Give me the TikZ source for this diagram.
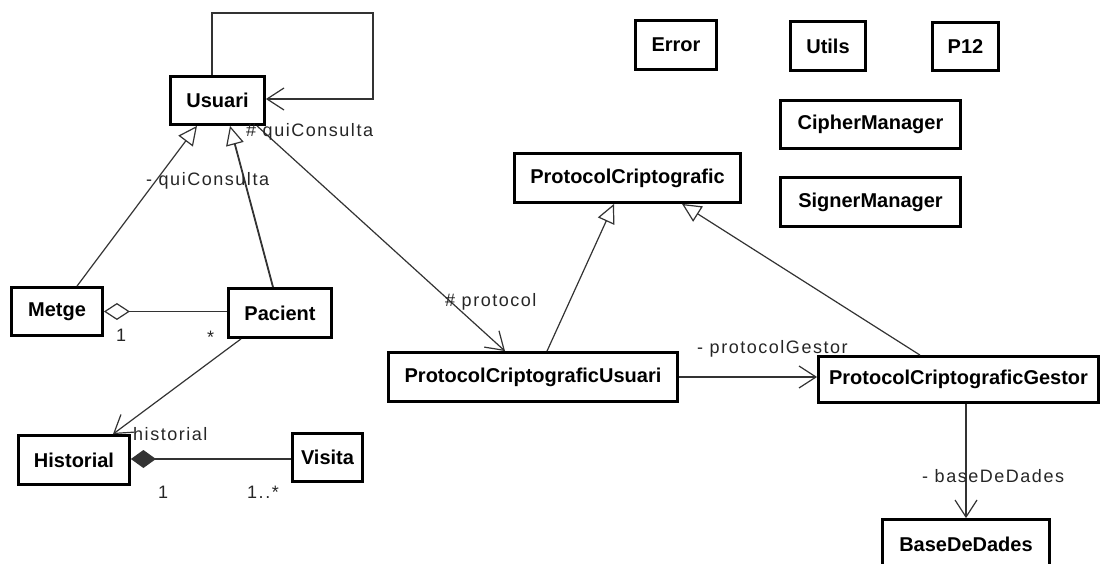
\documentclass[tikz,border=0pt]{standalone}
\usepackage{fontspec}
\setmainfont{Liberation Sans}
\newfontfamily\lblfont[LetterSpace=8.5]{Liberation Sans}
\usetikzlibrary{arrows.meta}
\begin{document}
\begin{tikzpicture}[x=1pt,y=-1pt,
  cls/.style={draw=black, line width=2.8pt, fill=white, inner sep=0pt,
    font=\bfseries\fontsize{20}{24}\selectfont},
  lbl/.style={inner sep=0pt, text=black!85, font=\lblfont\fontsize{18}{22}\selectfont},
  conn/.style={draw=black!80, line width=1.2pt},
  nav/.style={conn, -{Straight Barb[length=17pt,width=22pt,line width=1.2pt]}},
  inherit/.style={conn, -{Triangle[open,length=19pt,width=18pt,fill=white,line width=1.2pt]}},
  aggr/.style={conn, -{Diamond[open,length=26pt,width=17pt,fill=white,line width=1.2pt]}},
  comp/.style={conn, -{Diamond[length=25pt,width=18pt]}},
]
\useasboundingbox[fill=white] (0,0) rectangle (1104,564);

% classes
\node[cls, minimum width=94, minimum height=48] (usuari) at (217.5,100.5) {Usuari};
\node[cls, minimum width=81, minimum height=49] (error) at (676,45) {Error};
\node[cls, minimum width=75, minimum height=49] (utils) at (828,46) {Utils};
\node[cls, minimum width=66, minimum height=48] (p12) at (965.5,46.5) {P12};
\node[cls, minimum width=180, minimum height=48] (cipher) at (870.5,124.5) {CipherManager};
\node[cls, minimum width=180, minimum height=49] (signer) at (870.5,202) {SignerManager};
\node[cls, minimum width=226, minimum height=49] (pc) at (627.5,178) {ProtocolCriptografic};
\node[cls, minimum width=91, minimum height=48] (metge) at (57,311.5) {Metge};
\node[cls, minimum width=103, minimum height=49] (pacient) at (280,313) {Pacient};
\node[cls, minimum width=111, minimum height=49] (historial) at (74,460) {Historial};
\node[cls, minimum width=70, minimum height=48] (visita) at (327.5,457.5) {Visita};
\node[cls, minimum width=289, minimum height=49] (pcu) at (533,377) {ProtocolCriptograficUsuari};
\node[cls, minimum width=280, minimum height=46] (pcg) at (958.5,379.5) {ProtocolCriptograficGestor};
\node[cls, minimum width=167, minimum height=49] (bdd) at (966,544) {BaseDeDades};

% self association of Usuari
\coordinate (loop) at (373,13);
\draw[nav] ([xshift=-5.5]usuari.north) |- (loop) |- ([yshift=1.5]usuari.east);

% generalizations
\draw[inherit] ([xshift=20]metge.north) -- ([xshift=-20.5]usuari.south);
\draw[inherit, line width=1.8pt] ([xshift=-7]pacient.north) -- ([xshift=12.5]usuari.south);
\draw[inherit] ([xshift=14]pcu.north) -- ([xshift=-13.5]pc.south);
\draw[inherit] ([xshift=-38.5]pcg.north) -- ([xshift=54.5]pc.south);

% associations
\draw[nav] ([xshift=39.5]usuari.south) -- ([xshift=-28]pcu.north);
\draw[nav] (pcu.east) -- (pcg.west |- pcu.east);
\draw[nav] (bdd.north |- pcg.south) -- (bdd.north);
\draw[nav] ([xshift=-39]pacient.south) -- ([xshift=39]historial.north);
\draw[aggr] (pacient.west |- metge.east) -- (metge.east);
\draw[comp] (visita.west |- 0,459) -- (historial.east |- 0,459);

% role names and multiplicities
\node[lbl, anchor=west] (lq1) at (246,132) {\# quiConsulta};
\node[lbl, anchor=west] (lq2) at (146,181) {- quiConsulta};
\node[lbl, anchor=west] (lpr) at (445,302) {\# protocol};
\node[lbl, anchor=west] (lpg) at (697,349) {- protocolGestor};
\node[lbl, anchor=west] (lbd) at (922,476) {- baseDeDades};
\node[lbl, anchor=west] (lhi) at (133,434) {historial};
\node[lbl, anchor=west] (m1) at (116,335) {1};
\node[lbl, anchor=west] (m2) at (207,337) {*};
\node[lbl, anchor=west] (m3) at (158,492) {1};
\node[lbl, anchor=west] (m4) at (247,492) {1..*};
\end{tikzpicture}
\end{document}
